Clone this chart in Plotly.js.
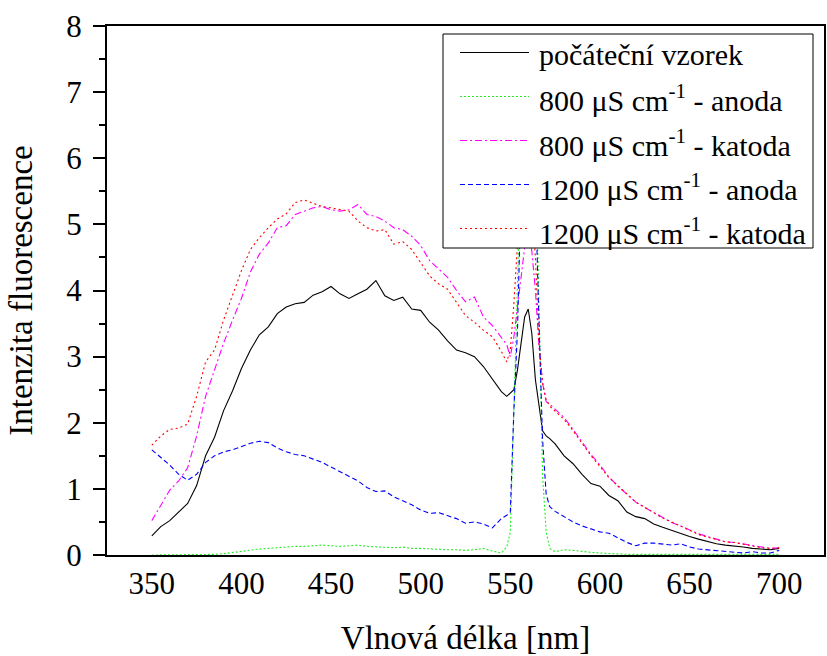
<!DOCTYPE html>
<html>
<head>
<meta charset="utf-8">
<script src="https://cdn.plot.ly/plotly-3.0.1.min.js"></script>
<style>
  html, body { margin: 0; padding: 0; background: #fff; }
  #chart { width: 827px; height: 656px; }
</style>
</head>
<body>
<div id="chart"></div>
<script>
// Wavelength [nm]
const wavelength = [350,355,360,365,370,375,380,385,390,395,400,405,410,415,420,425,430,435,440,445,
  450,455,460,465,470,475,480,485,490,495,500,505,510,515,520,525,530,535,540,545,
  548,550,552,554,556,558,560,562,564,566,568,570,572,575,
  580,585,590,595,600,605,610,615,620,625,630,635,640,645,650,655,660,665,670,675,680,685,690,695,700];

// počáteční vzorek
const initialSample = [0.29,0.43,0.52,0.65,0.78,1.05,1.50,1.78,2.18,2.48,2.82,3.10,3.33,3.45,3.65,3.75,3.80,3.82,3.93,3.98,
  4.06,3.95,3.88,3.95,4.02,4.15,3.92,3.85,3.90,3.72,3.70,3.52,3.40,3.24,3.10,3.06,3.00,2.85,2.66,2.47,
  2.40,2.45,2.50,2.80,3.20,3.60,3.72,3.35,2.65,2.25,1.88,1.80,1.76,1.68,
  1.50,1.38,1.22,1.08,1.04,0.90,0.82,0.65,0.58,0.55,0.47,0.42,0.37,0.33,0.28,0.24,0.20,0.17,0.15,0.14,0.12,0.10,0.09,0.08,0.10];

// 800 µS cm-1 - anoda
const anode800 = [0.00,0.00,0.00,0.00,0.00,0.00,0.01,0.01,0.02,0.04,0.05,0.07,0.09,0.10,0.11,0.13,0.13,0.13,0.14,0.15,
  0.14,0.13,0.14,0.15,0.13,0.12,0.12,0.11,0.12,0.10,0.10,0.09,0.08,0.08,0.08,0.07,0.08,0.10,0.06,0.03,
  0.12,0.35,2.20,4.20,6.00,7.00,7.30,7.00,6.00,3.80,1.20,0.35,0.10,0.05,
  0.08,0.07,0.05,0.04,0.03,0.02,0.01,0.01,0.01,0.01,0.01,0.01,0.01,0.01,0.01,0.01,0.01,0.01,0.01,0.01,0.01,0.01,0.01,0.01,0.01];

// 800 µS cm-1 - katoda
const cathode800 = [0.52,0.75,0.98,1.12,1.32,1.80,2.40,2.80,3.20,3.55,3.88,4.28,4.55,4.72,4.95,4.98,5.15,5.20,5.25,5.27,
  5.22,5.20,5.22,5.30,5.15,5.12,5.05,4.95,4.92,4.82,4.68,4.45,4.32,4.20,4.00,3.83,3.90,3.60,3.47,3.28,
  3.18,3.00,3.30,3.75,4.20,4.65,4.85,4.60,4.00,3.15,2.60,2.32,2.28,2.20,
  2.08,1.90,1.70,1.52,1.36,1.18,1.04,0.92,0.80,0.72,0.64,0.56,0.49,0.44,0.38,0.32,0.28,0.24,0.20,0.19,0.17,0.14,0.12,0.10,0.11];

// 1200 µS cm-1 - anoda
const anode1200 = [1.59,1.48,1.36,1.22,1.13,1.22,1.40,1.50,1.56,1.59,1.64,1.69,1.72,1.70,1.62,1.56,1.52,1.50,1.45,1.40,
  1.33,1.26,1.20,1.12,1.02,0.96,0.97,0.88,0.82,0.76,0.68,0.63,0.64,0.60,0.55,0.48,0.50,0.47,0.41,0.55,
  0.60,0.65,2.20,3.40,5.50,7.00,7.40,7.00,5.50,3.50,1.75,0.92,0.73,0.66,
  0.58,0.50,0.44,0.40,0.35,0.33,0.26,0.19,0.14,0.18,0.18,0.16,0.15,0.17,0.12,0.09,0.08,0.06,0.05,0.04,0.03,0.05,0.03,0.03,0.07];

// 1200 µS cm-1 - katoda
const cathode1200 = [1.66,1.80,1.90,1.92,1.98,2.40,2.92,3.10,3.55,3.92,4.30,4.62,4.80,4.95,5.08,5.16,5.33,5.37,5.32,5.27,
  5.25,5.22,5.20,5.05,4.95,4.90,4.92,4.70,4.74,4.62,4.42,4.22,4.10,4.02,3.82,3.62,3.52,3.40,3.30,3.08,
  2.92,3.10,3.80,4.70,5.20,5.50,5.60,5.30,4.50,3.20,2.60,2.35,2.25,2.18,
  2.05,1.88,1.68,1.50,1.34,1.17,1.05,0.92,0.80,0.72,0.64,0.56,0.50,0.44,0.38,0.31,0.27,0.23,0.20,0.19,0.16,0.14,0.11,0.10,0.11];

const seriesNames = [
  'počáteční vzorek',
  '800 μS cm<sup>-1</sup> - anoda',
  '800 μS cm<sup>-1</sup> - katoda',
  '1200 μS cm<sup>-1</sup> - anoda',
  '1200 μS cm<sup>-1</sup> - katoda'
];
const seriesValues = [initialSample, anode800, cathode800, anode1200, cathode1200];
const seriesColors = ['#000000', '#22ee22', '#ff00ff', '#0000ff', '#ff0000'];
const seriesDash = ['solid', '2px,2px', '7px,3px,2px,3px', '5px,3px', '2px,3px'];

const xTicks = [350,400,450,500,550,600,650,700];
const yTicks = [0,1,2,3,4,5,6,7,8];

const FONT = '"Liberation Serif", "Times New Roman", serif';

// plot area geometry (pixels) used to place the hand-drawn legend box
const W = 827, H = 656;
const M = { l: 107, r: 3, t: 26, b: 101 };
const PW = W - M.l - M.r, PH = H - M.t - M.b;
const px2x = p => (p - M.l) / PW;
const px2y = p => (H - M.b - p) / PH;

const traces = seriesValues.map((vals, i) => ({
  type: 'scatter',
  mode: 'lines',
  x: wavelength,
  y: vals,
  name: seriesNames[i],
  showlegend: false,
  line: { color: seriesColors[i], width: 1.1, dash: seriesDash[i] }
}));

// legend (box, line samples, labels)
const legBox = { x0: 443, x1: 813, y0: 34, y1: 248 };
const legLine = { x0: 460, x1: 529 };
const legTextX = 537;
const legRow0 = 52.5, legStep = 44;

const shapes = [{
  type: 'rect', xref: 'paper', yref: 'paper', layer: 'above',
  x0: px2x(legBox.x0), x1: px2x(legBox.x1), y0: px2y(legBox.y1), y1: px2y(legBox.y0),
  fillcolor: '#fff', line: { color: '#000', width: 1 }
}];
const annotations = [];
seriesNames.forEach((nm, i) => {
  const ry = legRow0 + i * legStep;
  shapes.push({
    type: 'line', xref: 'paper', yref: 'paper', layer: 'above',
    x0: px2x(legLine.x0), x1: px2x(legLine.x1), y0: px2y(ry), y1: px2y(ry),
    line: { color: seriesColors[i], width: 1.1, dash: seriesDash[i] }
  });
  annotations.push({
    xref: 'paper', yref: 'paper', x: px2x(legTextX), y: px2y(ry + 2),
    xanchor: 'left', yanchor: 'middle', showarrow: false,
    text: nm, font: { family: FONT, size: 30, color: '#000' }
  });
});

const layout = {
  width: W,
  height: H,
  margin: M,
  paper_bgcolor: '#fff',
  plot_bgcolor: '#fff',
  font: { family: FONT, size: 31, color: '#000' },
  showlegend: false,
  shapes: shapes,
  annotations: annotations,
  xaxis: {
    range: [325, 725],
    tickmode: 'array', tickvals: xTicks, ticktext: xTicks.map(String),
    ticks: '',
    showline: true, linewidth: 2, linecolor: '#000', mirror: true,
    showgrid: false, zeroline: false,
    tickfont: { family: FONT, size: 31 },
    ticklabelstandoff: 0,
    title: { text: 'Vlnová délka [nm]', font: { family: FONT, size: 33 }, standoff: 34 }
  },
  xaxis3: {
    overlaying: 'x', side: 'bottom', anchor: 'y',
    range: [325, 725],
    tickmode: 'array', tickvals: xTicks,
    ticks: 'outside', ticklen: 12, tickwidth: 2, tickcolor: '#000',
    minor: { dtick: 25, tick0: 325, ticks: 'outside', ticklen: 5, tickwidth: 2, tickcolor: '#000', showgrid: false },
    showticklabels: false, showgrid: false, zeroline: false, showline: false
  },
  yaxis: {
    range: [0, 8],
    tickmode: 'array', tickvals: yTicks, ticktext: yTicks.map(String),
    ticks: 'outside', ticklen: 12, tickwidth: 2, tickcolor: '#000',
    minor: { dtick: 0.5, tick0: 0, ticks: 'outside', ticklen: 6, tickwidth: 2, tickcolor: '#000', showgrid: false },
    showline: true, linewidth: 2, linecolor: '#000', mirror: true,
    showgrid: false, zeroline: false,
    tickfont: { family: FONT, size: 31 },
    ticklabelstandoff: 5,
    title: { text: 'Intenzita fluorescence', font: { family: FONT, size: 33 }, standoff: 24 }
  },
  xaxis2: {
    overlaying: 'x', side: 'top', anchor: 'y',
    range: [325, 725], dtick: 25, tick0: 325,
    ticks: 'inside', ticklen: 5, tickwidth: 1, tickcolor: '#bbb',
    showticklabels: false, showgrid: false, zeroline: false, showline: false
  },
  yaxis2: {
    overlaying: 'y', side: 'right', anchor: 'x',
    range: [0, 8], dtick: 0.5, tick0: 0,
    ticks: 'inside', ticklen: 6, tickwidth: 1.5, tickcolor: '#000',
    showticklabels: false, showgrid: false, zeroline: false, showline: false
  }
};

Plotly.newPlot('chart', traces, layout, { displayModeBar: false, staticPlot: true });
</script>
</body>
</html>
